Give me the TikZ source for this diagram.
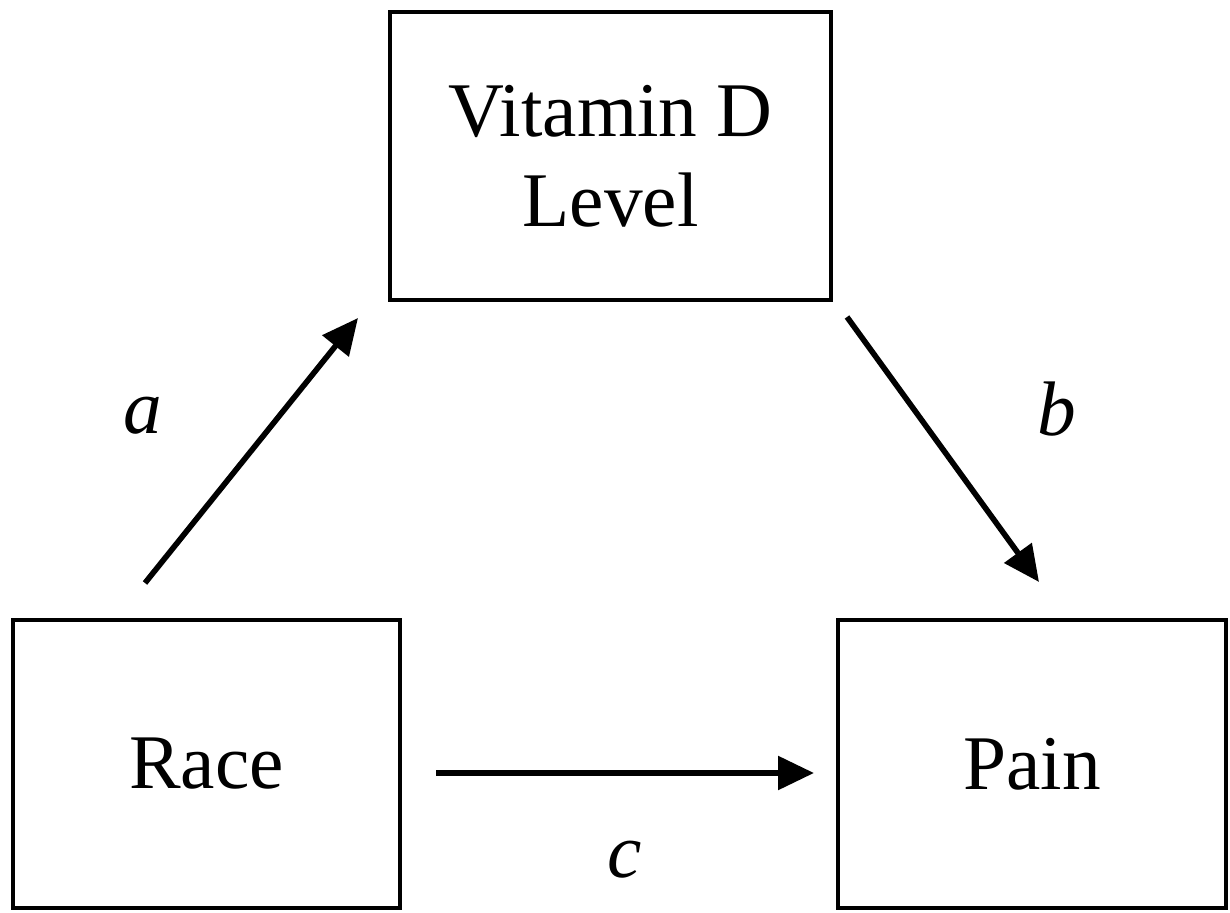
\documentclass[tikz,border=0pt]{standalone}
\usepackage{fontspec}
\setmainfont{Liberation Serif}
\usetikzlibrary{arrows.meta}
\tikzstyle{box}=[draw=black, line width=1.4pt, inner sep=0pt, align=center, font=\fontsize{22}{25.6}\selectfont]
\tikzstyle{path}=[line width=1.6pt, -{Triangle[length=3.6mm, width=3.3mm]}]
\tikzstyle{coef}=[inner sep=0pt, font=\fontsize{22}{26}\selectfont\itshape]

\begin{document}
\begin{tikzpicture}
				\useasboundingbox (0,0) rectangle (12.3,9.12);
				\node[box, minimum width=4.41cm, minimum height=2.88cm] (vit) at (6.105,7.56) {Vitamin D\\Level};
				\node[box, minimum width=3.87cm, minimum height=2.88cm] (race) at (2.065,1.48) {Race};
				\node[box, minimum width=3.88cm, minimum height=2.88cm] (pain) at (10.32,1.48) {Pain};

				\coordinate (a0) at (1.45,3.29);
				\coordinate (a1) at (3.58,5.94);
				\coordinate (b0) at (8.47,5.95);
				\coordinate (b1) at (10.39,3.30);
				\coordinate (c0) at (4.36,1.39);
				\coordinate (c1) at (8.14,1.39);

				\draw[path] (a0) -- (a1);
				\draw[path] (b0) -- (b1);
				\draw[path] (c0) -- (c1);

				\node[coef] (la) at (1.43,4.96) {a};
				\node[coef] (lb) at (10.57,5.03) {b};
				\node[coef] (lc) at (6.25,0.52) {c};
			\end{tikzpicture}
\end{document}
